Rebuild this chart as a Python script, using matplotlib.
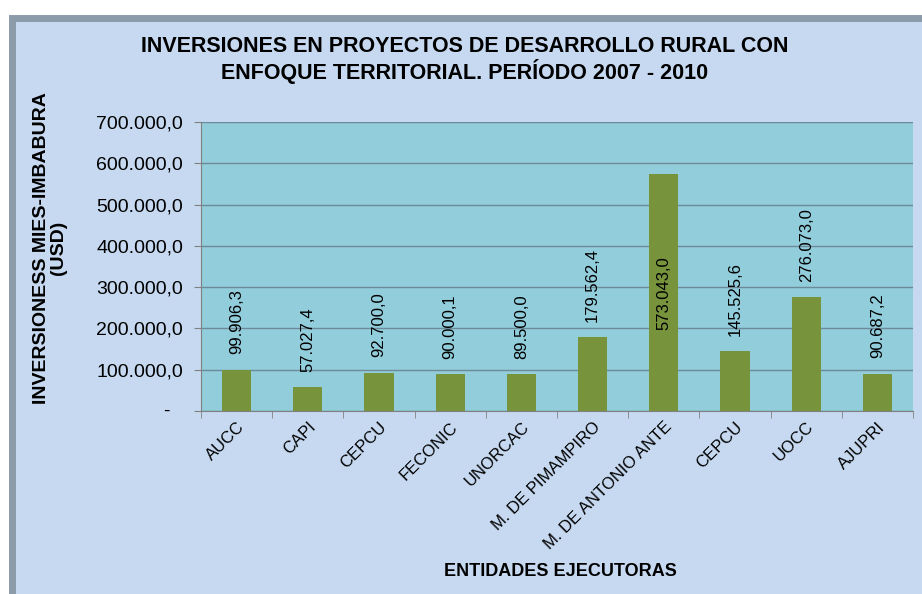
import matplotlib.pyplot as plt
from matplotlib.patches import Rectangle
from matplotlib.ticker import FuncFormatter, FixedLocator

entidades = ["AUCC", "CAPI", "CEPCU", "FECONIC", "UNORCAC", "M. DE PIMAMPIRO",
             "M. DE ANTONIO ANTE", "CEPCU", "UOCC", "AJUPRI"]
inversiones = [99906.3, 57027.4, 92700.0, 90000.1, 89500.0, 179562.4,
               573043.0, 145525.6, 276073.0, 90687.2]
yticks = [0, 100000, 200000, 300000, 400000, 500000, 600000, 700000]

plt.rcParams['font.family'] = ['Liberation Sans', 'DejaVu Sans']


def fmt(v):
    s = f"{v:,.1f}"
    return s.replace(",", "X").replace(".", ",").replace("X", ".")


fig = plt.figure(figsize=(9.22, 5.94), dpi=100, facecolor='white')
# chart frame
fig.patches.append(Rectangle((12 / 922, -0.01), 1.0, 1 - 18 / 594 + 0.01,
                             transform=fig.transFigure, facecolor='#C6D9F0',
                             edgecolor='#8C9BAA', linewidth=5, zorder=-5))

ax = fig.add_axes([201 / 922, 1 - 411 / 594, 712 / 922, 289 / 594])
ax.set_zorder(2)
ax.set_facecolor('#92CDDC')
x = range(len(entidades))
ax.bar(x, inversiones, width=0.41, color='#77933C', zorder=3)
ax.set_xlim(-0.5, len(entidades) - 0.5)
ax.set_ylim(0, 700000)

ax.yaxis.set_major_locator(FixedLocator(yticks))
ax.yaxis.set_major_formatter(FuncFormatter(lambda v, p: "" if v == 0 else fmt(v)))
ax.grid(axis='y', color='#6E8A99', linewidth=1, zorder=1)
ax.tick_params(axis='y', labelsize=14, length=5, color='#808080', pad=8)
# excel-style dash for zero, a bit left of the other labels
ax.annotate("-", xy=(0, 0), xycoords=('axes fraction', 'data'), xytext=(-25, 0),
            textcoords='offset points', ha='center', va='center', fontsize=14)

ax.set_xticks(list(x))
ax.set_xticklabels(entidades, rotation=45, ha='right', va='top',
                   rotation_mode='anchor', fontsize=12)
ax.tick_params(axis='x', length=0, pad=6)
ax.set_xticks([i + 0.5 for i in range(-1, len(entidades))], minor=True)
ax.tick_params(axis='x', which='minor', length=5, color='#808080')

for sp in ['top', 'right']:
    ax.spines[sp].set_visible(False)
for sp in ['left', 'bottom']:
    ax.spines[sp].set_color('#808080')

for i, v in zip(x, inversiones):
    if v > 400000:
        ax.text(i, v / 2, fmt(v), rotation=90, ha='center', va='center',
                fontsize=12, zorder=4)
    else:
        ax.annotate(fmt(v), (i, v), xytext=(0, 11), textcoords='offset points',
                    rotation=90, ha='center', va='bottom', fontsize=12, zorder=4)

fig.text(465 / 922, 1 - 60 / 594,
         "INVERSIONES EN PROYECTOS DE DESARROLLO RURAL CON\nENFOQUE TERRITORIAL. PERÍODO 2007 - 2010",
         ha='center', va='center', fontsize=15.5, fontweight='bold', linespacing=1.05)
fig.text(560 / 922, 1 - 571 / 594, "ENTIDADES EJECUTORAS", ha='center', va='center',
         fontsize=13, fontweight='bold')
fig.text(50 / 922, 1 - 248 / 594, "INVERSIONESS MIES-IMBABURA\n(USD)", ha='center',
         va='center', rotation=90, fontsize=14, fontweight='bold', linespacing=1.0)

fig.savefig("out.png", dpi=100, facecolor=fig.get_facecolor())
